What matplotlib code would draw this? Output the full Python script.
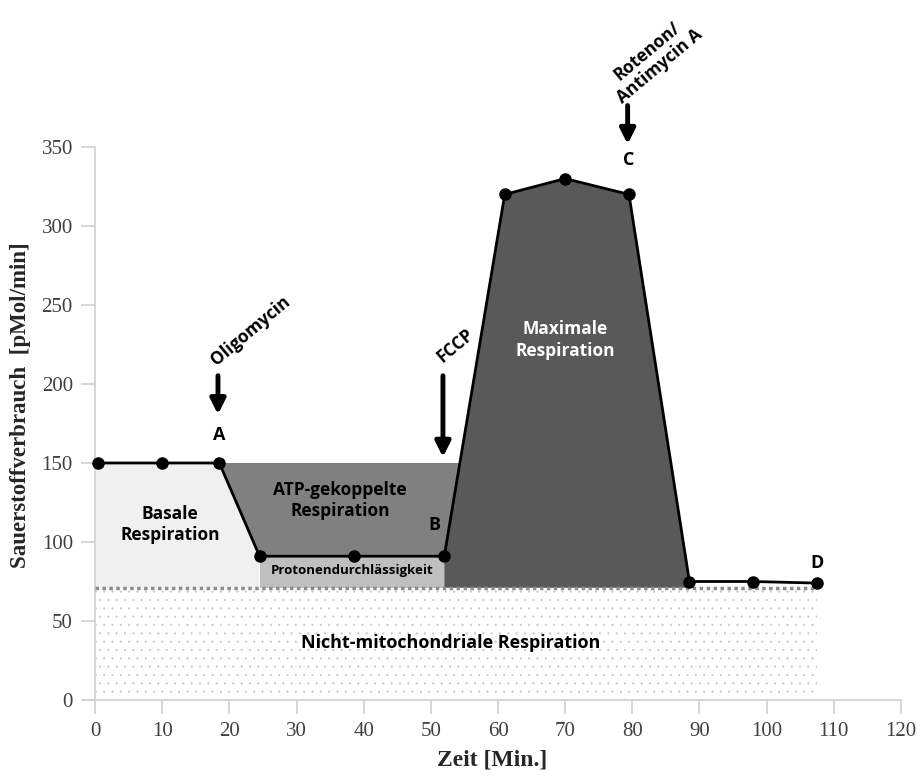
import numpy as np
import matplotlib.pyplot as plt

# measured oxygen consumption
zeit = [0.5, 10, 18.5, 24.5, 38.5, 52, 61, 70, 79.5, 88.5, 98, 107.5]
ocr = [150, 150, 150, 91, 91, 91, 320, 330, 320, 75, 75, 74]
nicht_mito = 71

xticks = list(range(0, 130, 10))
yticks = list(range(0, 400, 50))

fig = plt.figure(figsize=(9.17, 7.77), dpi=100)
ax = fig.add_axes([0.0905, 0.0991, 0.892, 0.7117])

serif = 'Liberation Serif'
sans = 'Open Sans'

plt.rcParams['hatch.linewidth'] = 0.3

# non-mitochondrial area (stippled)
ax.fill_between([0, zeit[-1]], 0, nicht_mito, facecolor='white', edgecolor='#c4c4c4',
                hatch='..', linewidth=0, zorder=1)
ax.plot([0, zeit[-1]], [nicht_mito, nicht_mito], color='#8c8c8c', linestyle=(0, (1, 1)),
        linewidth=2.5, zorder=3)

# basal respiration
ax.fill([0, zeit[2], zeit[3], zeit[3], 0], [ocr[0], ocr[2], ocr[3], nicht_mito, nicht_mito],
        color='#f0f0f0', linewidth=0, zorder=2)
# proton leak
ax.fill([zeit[3], zeit[5], zeit[5], zeit[3]], [ocr[3], ocr[5], nicht_mito, nicht_mito],
        color='#bfbfbf', linewidth=0, zorder=2)
# ATP-linked
x_cross = zeit[5] + (ocr[0] - ocr[5]) / (ocr[6] - ocr[5]) * (zeit[6] - zeit[5])
ax.fill([zeit[2], zeit[3], zeit[5], x_cross], [ocr[2], ocr[3], ocr[5], ocr[0]],
        color='#808080', linewidth=0, zorder=2)
# maximal respiration
mx = [zeit[5]] + zeit[5:10] + [zeit[9]]
my = [nicht_mito] + ocr[5:10] + [nicht_mito]
ax.fill(mx, my, color='#595959', linewidth=0, zorder=2)

ax.plot(zeit, ocr, color='black', linewidth=2, marker='o', markersize=8, zorder=4,
        clip_on=False)

# arrows
arrow = dict(arrowstyle='-|>,head_width=0.45,head_length=0.9', color='black', lw=3.5)
ax.annotate('', xy=(18.3, 179), xytext=(18.3, 207), arrowprops=arrow)
ax.annotate('', xy=(51.8, 152), xytext=(51.8, 207), arrowprops=arrow)
ax.annotate('', xy=(79.3, 350), xytext=(79.3, 378), arrowprops=arrow, annotation_clip=False)

ax.text(23.1, 234, 'Oligomycin', fontsize=12.5, fontweight='bold', family=sans,
        rotation=40, ha='center', va='center')
ax.text(53.7, 224, 'FCCP', fontsize=12.5, fontweight='bold', family=sans,
        rotation=40, ha='center', va='center', clip_on=False)
ax.text(83.2, 406, 'Rotenon/\nAntimycin A', fontsize=12.5, fontweight='bold', family=sans,
        rotation=40, ha='center', va='center', linespacing=1.1)

for lab, x, y in [('A', 18.5, 168), ('B', 50.5, 111), ('C', 79.5, 342), ('D', 107.5, 87)]:
    ax.text(x, y, lab, fontsize=13, fontweight='bold', family=sans, ha='center', va='center')

ax.text(11.2, 111, 'Basale\nRespiration', fontsize=12.5, fontweight='bold', family=sans,
        ha='center', va='center', linespacing=1.2, zorder=5)
ax.text(36.5, 126.5, 'ATP-gekoppelte\nRespiration', fontsize=12.5, fontweight='bold',
        family=sans, ha='center', va='center', linespacing=1.2, zorder=5)
ax.text(38.2, 82, 'Protonendurchlässigkeit', fontsize=9.5, fontweight='bold', family=sans,
        ha='center', va='center', zorder=5)
ax.text(70, 228, 'Maximale\nRespiration', fontsize=12.5, fontweight='bold', family=sans,
        color='white', ha='center', va='center', linespacing=1.3, zorder=5)
ax.text(53, 36, 'Nicht-mitochondriale Respiration', fontsize=13, fontweight='bold',
        family=sans, ha='center', va='center', zorder=5)

ax.set_xlim(-1.8, 120)
ax.set_ylim(0, 350)
ax.set_xticks(xticks)
ax.set_yticks(yticks)
ax.spines['left'].set_position(('data', 0))
ax.spines['top'].set_visible(False)
ax.spines['right'].set_visible(False)
for s in ['left', 'bottom']:
    ax.spines[s].set_color('#d0d0d0')
    ax.spines[s].set_linewidth(1.2)
ax.tick_params(axis='both', length=10, width=1.2, color='#d0d0d0', labelsize=15,
               labelcolor='#404040', pad=6)
for t in ax.get_xticklabels() + ax.get_yticklabels():
    t.set_family(serif)

ax.set_xlabel('Zeit [Min.]', fontsize=17, fontweight='bold', family=serif, color='#262626',
              labelpad=6)
ax.set_ylabel('Sauerstoffverbrauch  [pMol/min]', fontsize=16.5, fontweight='bold',
              family=serif, color='#262626')
ax.yaxis.set_label_coords(-0.063, 0.533)

fig.savefig('out.png', dpi=100)
